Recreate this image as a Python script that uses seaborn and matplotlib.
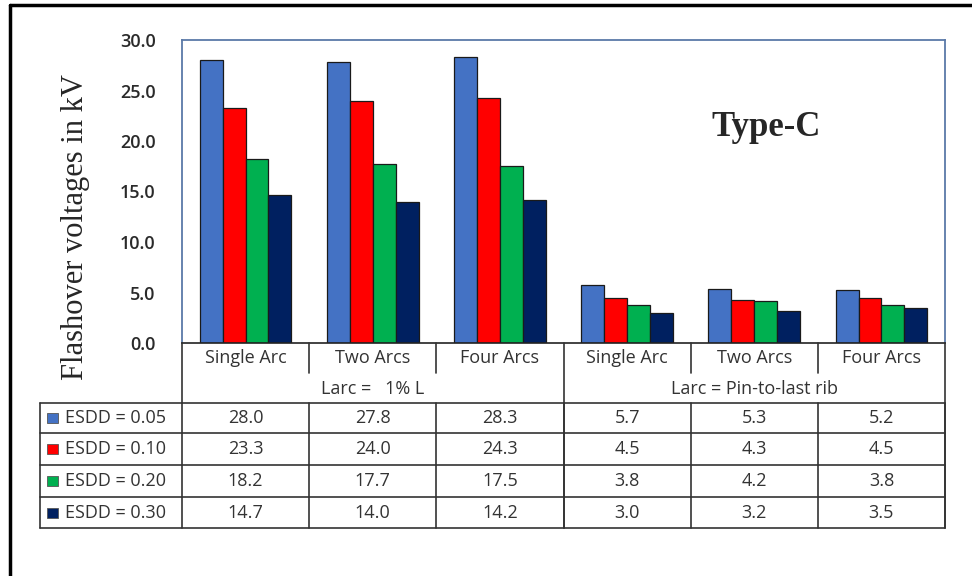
import numpy as np
import pandas as pd
import matplotlib
matplotlib.use("Agg")
import matplotlib.pyplot as plt
from matplotlib.patches import Rectangle
from matplotlib.lines import Line2D
import seaborn as sns

# data
arcs = ["Single Arc", "Two Arcs", "Four Arcs", "Single Arc", "Two Arcs", "Four Arcs"]
groups = ["Larc =   1% L", "Larc = Pin-to-last rib"]
series = ["ESDD = 0.05", "ESDD = 0.10", "ESDD = 0.20", "ESDD = 0.30"]
esdd_005 = [28.0, 27.8, 28.3, 5.7, 5.3, 5.2]
esdd_010 = [23.3, 24.0, 24.3, 4.5, 4.3, 4.5]
esdd_020 = [18.2, 17.7, 17.5, 3.8, 4.2, 3.8]
esdd_030 = [14.7, 14.0, 14.2, 3.0, 3.2, 3.5]
colors = ["#4472C4", "#FF0000", "#00B050", "#002060"]

values = [esdd_005, esdd_010, esdd_020, esdd_030]
rows = []
for s, vals in zip(series, values):
    for i, v in enumerate(vals):
        rows.append({"pos": i, "series": s, "kV": v})
df = pd.DataFrame(rows)

sns.set_style("white")
plt.rcParams["font.family"] = ["Open Sans", "DejaVu Sans"]

W, H = 972, 576
fig = plt.figure(figsize=(W / 100, H / 100), dpi=100)

def fx(px):
    return px / W

def fy(py):
    return 1 - py / H

x0, x1, ytop, ybot = 182, 945, 40, 343
ax = fig.add_axes([fx(x0), fy(ybot), fx(x1) - fx(x0), fy(ytop) - fy(ybot)])

sns.barplot(data=df, x="pos", y="kV", hue="series", palette=colors, saturation=1,
            width=0.72, edgecolor="#1a1a1a", linewidth=0.9, ax=ax, legend=False)

ax.set_xlim(-0.5, 5.5)
ax.set_ylim(0, 30)
ax.set_yticks(np.arange(0, 31, 5))
ax.set_yticklabels([f"{t:.1f}" for t in np.arange(0, 31, 5)], fontsize=13,
                   fontweight="semibold", color="#2a2a2a")
ax.set_xticks([])
ax.set_xlabel("")
ax.set_ylabel("")
ax.tick_params(axis="y", length=0, pad=19)
for side in ["top", "right", "left"]:
    ax.spines[side].set_color("#5B79A8")
    ax.spines[side].set_linewidth(1.3)
ax.spines["bottom"].set_color("#222222")
ax.spines["bottom"].set_linewidth(1.2)

fig.text(fx(76), fy(227), "Flashover voltages in kV", rotation=90, ha="center", va="center",
         fontsize=22, family=["Liberation Serif", "DejaVu Serif"])
fig.text(fx(766), fy(127), "Type-C", ha="center", va="center",
         fontsize=25, fontweight="bold", family=["Liberation Serif", "DejaVu Serif"])

# data table under the chart
lc = "#333333"
tc = "#333333"
fs = 13

def hline(xa, xb, py, lw=1.2):
    fig.add_artist(Line2D([fx(xa), fx(xb)], [fy(py), fy(py)], color=lc, lw=lw))

def vline(px, ya, yb, lw=1.2):
    fig.add_artist(Line2D([fx(px), fx(px)], [fy(ya), fy(yb)], color=lc, lw=lw))

cw = (x1 - x0) / 6
edges = [x0 + i * cw for i in range(7)]
row_y = [403, 433, 465, 497, 528]
tab_left = 40

# category row + group row
vline(x0, ybot, row_y[0])
vline(x1, ybot, row_y[-1])
for i in [1, 2, 4, 5]:
    vline(edges[i], ybot, 373)
vline(edges[3], ybot, row_y[-1])
for i, name in enumerate(arcs):
    fig.text(fx(edges[i] + cw / 2), fy(358), name, ha="center", va="center", fontsize=fs, color=tc)
fig.text(fx(edges[1] + cw / 2), fy(389), groups[0], ha="center", va="center", fontsize=fs, color=tc)
fig.text(fx(edges[4] + cw / 2), fy(389), groups[1], ha="center", va="center", fontsize=fs, color=tc)

# data rows
for py in row_y:
    hline(tab_left, x1, py)
vline(tab_left, row_y[0], row_y[-1])
for i in range(7):
    vline(edges[i], row_y[0], row_y[-1])
for r, (s, vals, c) in enumerate(zip(series, values, colors)):
    cy = (row_y[r] + row_y[r + 1]) / 2
    fig.add_artist(Rectangle((fx(47), fy(cy + 5)), fx(11), fy(cy - 5) - fy(cy + 5),
                             facecolor=c, edgecolor="#555555", lw=0.6))
    fig.text(fx(65), fy(cy), s, ha="left", va="center", fontsize=fs, color=tc)
    for i, v in enumerate(vals):
        fig.text(fx(edges[i] + cw / 2), fy(cy), f"{v:.1f}", ha="center", va="center",
                 fontsize=fs, color=tc)

# outer frame (top and left edges)
fig.add_artist(Line2D([fx(10), 1], [fy(5), fy(5)], color="black", lw=2.5))
fig.add_artist(Line2D([fx(10), fx(10)], [fy(5), 0], color="black", lw=2.5))

fig.savefig("out.png", dpi=100)
